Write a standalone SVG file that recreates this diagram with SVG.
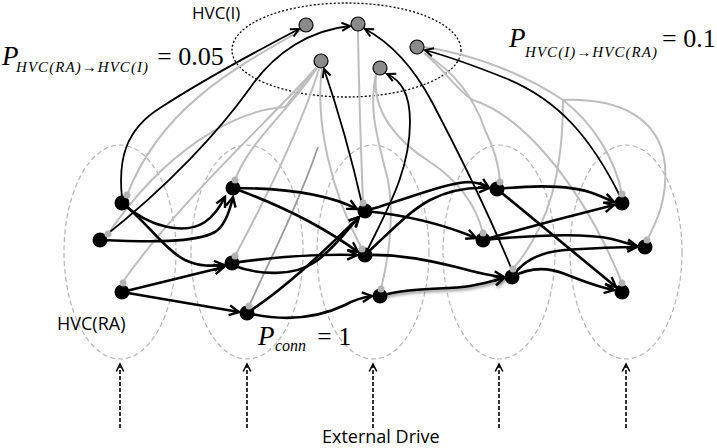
<svg xmlns="http://www.w3.org/2000/svg" width="717" height="448" viewBox="0 0 717 448">
<style>
.pool{fill:none;stroke:#b4b4b4;stroke-width:1.2;stroke-dasharray:5 3}
.ipool{fill:none;stroke:#000;stroke-width:1.3;stroke-dasharray:2 2}
.g{fill:none;stroke:#bdbdbd;stroke-width:2}
.gd{fill:none;stroke:#9a9a9a;stroke-width:1.8}
.a{fill:none;stroke:#000;stroke-width:2.6;marker-end:url(#ah)}
.b{fill:none;stroke:#000;stroke-width:1.8;marker-end:url(#ahs)}
.d{fill:none;stroke:#000;stroke-width:1.6;stroke-dasharray:4 2;marker-end:url(#ahd)}
.ra{fill:#000}
.dot{fill:#b3b3b3}
.in{fill:#8a8a8a;stroke:#000;stroke-width:1.2}
.sans{font-family:"Open Sans","DejaVu Sans",sans-serif;fill:#000}
.m{font-family:"Liberation Serif","Times New Roman",serif;fill:#000}
.it{font-style:italic}
</style>
<defs>
<marker id="ah" viewBox="0 0 12 12" refX="10" refY="6" markerWidth="13" markerHeight="13" markerUnits="userSpaceOnUse" orient="auto"><path d="M1,1.5 L10,6 L1,10.5" fill="none" stroke="#000" stroke-width="2.2"/></marker>
<marker id="ahs" viewBox="0 0 12 12" refX="10" refY="6" markerWidth="11" markerHeight="11" markerUnits="userSpaceOnUse" orient="auto"><path d="M1,1.5 L10,6 L1,10.5" fill="none" stroke="#000" stroke-width="2.2"/></marker>
<marker id="ahd" viewBox="0 0 12 12" refX="10" refY="6" markerWidth="10" markerHeight="10" markerUnits="userSpaceOnUse" orient="auto"><path d="M1,1.5 L10,6 L1,10.5" fill="none" stroke="#000" stroke-width="2"/></marker>
<filter id="sh" x="-10%" y="-50%" width="120%" height="200%"><feDropShadow dx="1" dy="2" stdDeviation="1.5" flood-color="#000" flood-opacity="0.45"/></filter>
</defs>

<g id="pools">
<ellipse class="ipool" cx="346.5" cy="50" rx="114.5" ry="47"/>
<ellipse class="pool" cx="120" cy="252" rx="56" ry="107"/>
<ellipse class="pool" cx="247" cy="252" rx="56" ry="107"/>
<ellipse class="pool" cx="373" cy="252" rx="56" ry="107"/>
<ellipse class="pool" cx="499" cy="252" rx="56" ry="107"/>
<ellipse class="pool" cx="626" cy="252" rx="56" ry="107"/>
</g>

<g id="connectors">
<g id="inhibitory">
<path class="g" d="M302,30 C230,70 160,110 127,195"/>
<path class="g" d="M316,68 L285,107 C235,110 165,150 108,234"/>
<path class="g" d="M316,68 C270,120 180,200 122,283"/>
<path class="g" d="M317,68 C290,110 250,140 235,180"/>
<path class="g" d="M319,69 C300,130 265,200 235,256"/>
<path class="g" d="M322,69 C315,120 330,190 362,249"/>
<path class="gd" d="M318,147 C300,200 270,260 249,306"/>
<path class="g" d="M358,31 C359,100 361,150 363,203"/>
<path class="g" d="M376,74 C368,110 378,140 388,180 C395,220 388,260 381,289"/>
<path class="g" d="M376,75 C372,110 395,140 430,162 C460,182 476,205 483,233"/>
<path class="g" d="M424,53 C455,72 475,100 485,130 C495,150 499,165 500,182"/>
<path class="g" d="M424,53 C445,70 458,92 473,100 C520,115 580,180 622,283"/>
<path class="g" d="M424,47 C480,55 530,78 563,100 C595,125 615,160 622,194"/>
<path class="g" d="M563,100 C620,98 660,118 665,165 C668,200 655,225 647,240"/>
<path class="g" d="M563,100 C563,170 550,225 513,269"/>
</g>
<g id="ra-to-i">
<path class="b" d="M122,198 C118,160 125,130 160,108 C200,82 255,52 299,29"/>
<path class="b" d="M100,240 C170,185 220,130 250,88 C275,52 310,30 350,26"/>
<path class="b" d="M362,204 C352,160 338,110 324,69"/>
<path class="b" d="M368,249 C388,208 410,170 410,122 C410,92 400,80 387,74"/>
<path class="b" d="M512,270 C485,205 452,140 432,102 C416,72 395,45 365,29"/>
<path class="b" d="M620,196 C592,140 560,100 505,78 C475,66 450,57 425,50"/>
</g>
<g id="ra-to-ra">
<path class="a" d="M122,203 C150,228 185,235 205,222 C215,215 221,205 225,197"/>
<path class="a" d="M100,240 C150,242 195,243 215,232 C225,226 230,210 233,197"/>
<path class="a" d="M122,203 C145,220 165,250 185,260 C200,267 212,266 224,265"/>
<path class="a" d="M122,292 L224,267"/>
<path class="a" d="M122,292 L239,312"/>
<path class="a" d="M233,188 C290,188 330,195 357,209"/>
<path class="a" d="M233,188 C280,205 325,228 358,252"/>
<path class="a" d="M232,263 C280,256 320,254 357,255"/>
<path class="a" d="M232,265 C260,276 295,276 315,262 C335,248 347,230 359,217"/>
<path class="a" d="M247,313 C290,285 330,245 359,217"/>
<path class="a" d="M247,313 C290,323 322,316 345,305 C356,299 364,297 372,296"/>
<path class="a" d="M365,211 C405,200 445,183 468,182 C478,182 484,185 489,188"/>
<path class="a" d="M365,211 C405,215 445,225 476,238"/>
<path class="a" d="M365,255 C390,232 408,212 430,200 C450,190 470,187 489,188"/>
<path class="a" d="M365,255 C405,254 435,262 460,268 C478,273 492,276 504,277"/>
<path class="a" filter="url(#sh)" d="M380,296 C410,287 445,290 470,286 C488,283 497,280 504,278"/>
<path class="a" d="M497,189 C545,184 575,186 595,194 C603,197 609,200 614,202"/>
<path class="a" d="M497,189 L616,287"/>
<path class="a" d="M483,240 C525,228 570,216 614,205"/>
<path class="a" d="M483,240 C535,235 585,233 612,239 C624,242 631,245 637,246"/>
<path class="a" d="M512,277 C522,262 538,252 565,250 C595,248 620,247 637,247"/>
<path class="a" d="M512,277 C528,268 545,266 565,274 C585,282 602,288 614,290"/>
</g>
<g id="drive">
<path class="d" d="M120,428 L120,364"/>
<path class="d" d="M247,428 L247,364"/>
<path class="d" d="M373,428 L373,364"/>
<path class="d" d="M499,428 L499,364"/>
<path class="d" d="M626,428 L626,364"/>
</g>
</g>

<g id="hvc-i">
<circle id="i1" class="in" cx="306" cy="25" r="7"/>
<circle id="i2" class="in" cx="358" cy="24" r="7"/>
<circle id="i3" class="in" cx="321" cy="61" r="7"/>
<circle id="i4" class="in" cx="380" cy="68" r="7"/>
<circle id="i5" class="in" cx="417" cy="47" r="7"/>
</g>

<g id="hvc-ra">
<g id="n1a"><circle class="ra" cx="122" cy="203" r="7.5"/><circle class="dot" cx="127" cy="195" r="3.5"/></g>
<g id="n1b"><circle class="ra" cx="100" cy="240" r="7.5"/><circle class="dot" cx="108" cy="234" r="3.5"/></g>
<g id="n1c"><circle class="ra" cx="122" cy="292" r="7.5"/><circle class="dot" cx="123" cy="283" r="3.5"/></g>
<g id="n2a"><circle class="ra" cx="233" cy="188" r="7.5"/><circle class="dot" cx="235" cy="180" r="3.5"/></g>
<g id="n2b"><circle class="ra" cx="232" cy="263" r="7.5"/><circle class="dot" cx="235" cy="256" r="3.5"/></g>
<g id="n2c"><circle class="ra" cx="247" cy="313" r="7.5"/><circle class="dot" cx="249" cy="306" r="3.5"/></g>
<g id="n3a"><circle class="ra" cx="365" cy="211" r="7.5"/><circle class="dot" cx="363" cy="203" r="3.5"/></g>
<g id="n3b"><circle class="ra" cx="365" cy="255" r="7.5"/><circle class="dot" cx="362" cy="249" r="3.5"/></g>
<g id="n3c"><circle class="ra" cx="380" cy="296" r="7.5"/><circle class="dot" cx="381" cy="289" r="3.5"/></g>
<g id="n4a"><circle class="ra" cx="497" cy="189" r="7.5"/><circle class="dot" cx="500" cy="182" r="3.5"/></g>
<g id="n4b"><circle class="ra" cx="483" cy="240" r="7.5"/><circle class="dot" cx="483" cy="233" r="3.5"/></g>
<g id="n4c"><circle class="ra" cx="512" cy="277" r="7.5"/><circle class="dot" cx="513" cy="269" r="3.5"/></g>
<g id="n5a"><circle class="ra" cx="622" cy="203" r="7.5"/><circle class="dot" cx="622" cy="194" r="3.5"/></g>
<g id="n5b"><circle class="ra" cx="645" cy="247" r="7.5"/><circle class="dot" cx="647" cy="240" r="3.5"/></g>
<g id="n5c"><circle class="ra" cx="622" cy="292" r="7.5"/><circle class="dot" cx="622" cy="283" r="3.5"/></g>
</g>

<g id="labels">
<text class="sans" x="192" y="19" font-size="17">HVC(I)</text>
<text class="sans" x="57" y="330" font-size="18">HVC(RA)</text>
<text class="sans" x="322" y="443" font-size="18">External Drive</text>
<text class="m it" x="2" y="65" font-size="27">P</text>
<text class="m it" x="16" y="72" font-size="15" textLength="132" lengthAdjust="spacing">HVC(RA)→HVC(I)</text>
<text class="m" x="157" y="65" font-size="26">= 0.05</text>
<text class="m it" x="509" y="47" font-size="27">P</text>
<text class="m it" x="525" y="57" font-size="15" textLength="132" lengthAdjust="spacing">HVC(I)→HVC(RA)</text>
<text class="m" x="662" y="47" font-size="26">= 0.1</text>
<text class="m it" x="258" y="345" font-size="27">P</text>
<text class="m it" x="275" y="351" font-size="16">conn</text>
<text class="m" x="317" y="345" font-size="26">= 1</text>
</g>
</svg>
